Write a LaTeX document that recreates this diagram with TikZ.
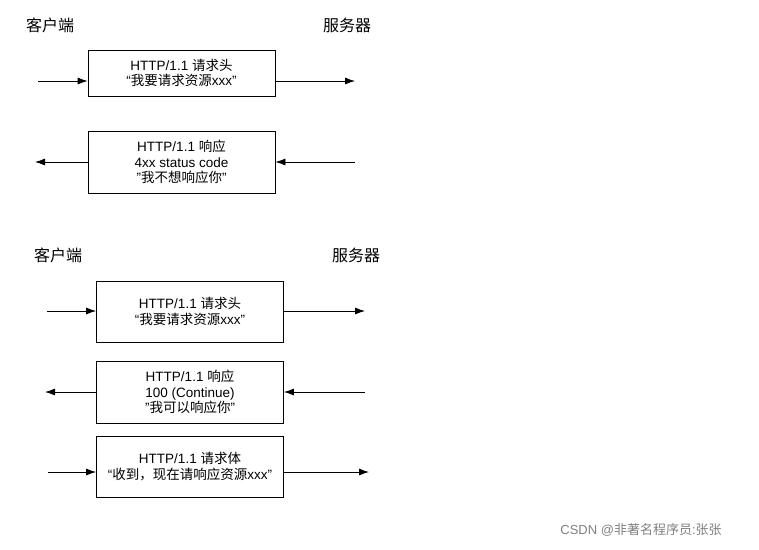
\documentclass[tikz,border=0pt]{standalone}
\usepackage{fontspec}
\setmainfont{Liberation Sans}
\newfontfamily\cjk{Noto Sans CJK SC}
\newcommand{\zh}[1]{{\cjk #1}}
\usetikzlibrary{arrows.meta}
\begin{document}
\begin{tikzpicture}[x=1pt,y=-1pt,
 box/.style={draw,thick,minimum width=187pt,align=center,font=\fontsize{13.5}{15.5}\selectfont,inner sep=0pt},
 hd/.style={font=\fontsize{16}{18}\selectfont},
 ar/.style={thick,-{Latex[length=10pt,width=7pt]}}]
\useasboundingbox (0,0) rectangle (759,549);
\node[hd] (c1) at (50,25) {\zh{客户端}};
\node[hd] (s1) at (347,25) {\zh{服务器}};
\node[box,minimum height=46pt] (b1) at (181.5,73) {HTTP/1.1 \zh{请求头}\\“\zh{我要请求资源}xxx”};
\node[box,minimum height=62pt] (b2) at (181.5,162) {HTTP/1.1 \zh{响应}\\4xx status code\\"\zh{我不想响应你}"};
\coordinate (l1) at (38,81); \coordinate (r1) at (355,81);
\coordinate (l2) at (35,162); \coordinate (r2) at (355,162);
\draw[ar] (l1) -- (l1-|b1.west);
\draw[ar] (r1-|b1.east) -- (r1);
\draw[ar] (l2-|b2.west) -- (l2);
\draw[ar] (r2) -- (r2-|b2.east);
\node[hd] (c2) at (58,255) {\zh{客户端}};
\node[hd] (s2) at (356,255) {\zh{服务器}};
\node[box,minimum height=61pt] (b3) at (190,311.5) {HTTP/1.1 \zh{请求头}\\“\zh{我要请求资源}xxx”};
\node[box,minimum height=62pt] (b4) at (190,392) {HTTP/1.1 \zh{响应}\\100 (Continue)\\"\zh{我可以响应你}"};
\node[box,minimum height=61pt] (b5) at (190,466.5) {HTTP/1.1 \zh{请求体}\\“\zh{收到，现在请响应资源}xxx”};
\coordinate (l3) at (47,311); \coordinate (r3) at (365,311);
\coordinate (l4) at (45,392); \coordinate (r4) at (365,392);
\coordinate (l5) at (48,472); \coordinate (r5) at (369,472);
\draw[ar] (l3) -- (l3-|b3.west);
\draw[ar] (r3-|b3.east) -- (r3);
\draw[ar] (l4-|b4.west) -- (l4);
\draw[ar] (r4) -- (r4-|b4.east);
\draw[ar] (l5) -- (l5-|b5.west);
\draw[ar] (r5-|b5.east) -- (r5);
\node[text=gray,font=\fontsize{13}{15}\selectfont] (wm) at (641,530) {CSDN @\zh{非著名程序员}:\zh{张张}};
\end{tikzpicture}
\end{document}
